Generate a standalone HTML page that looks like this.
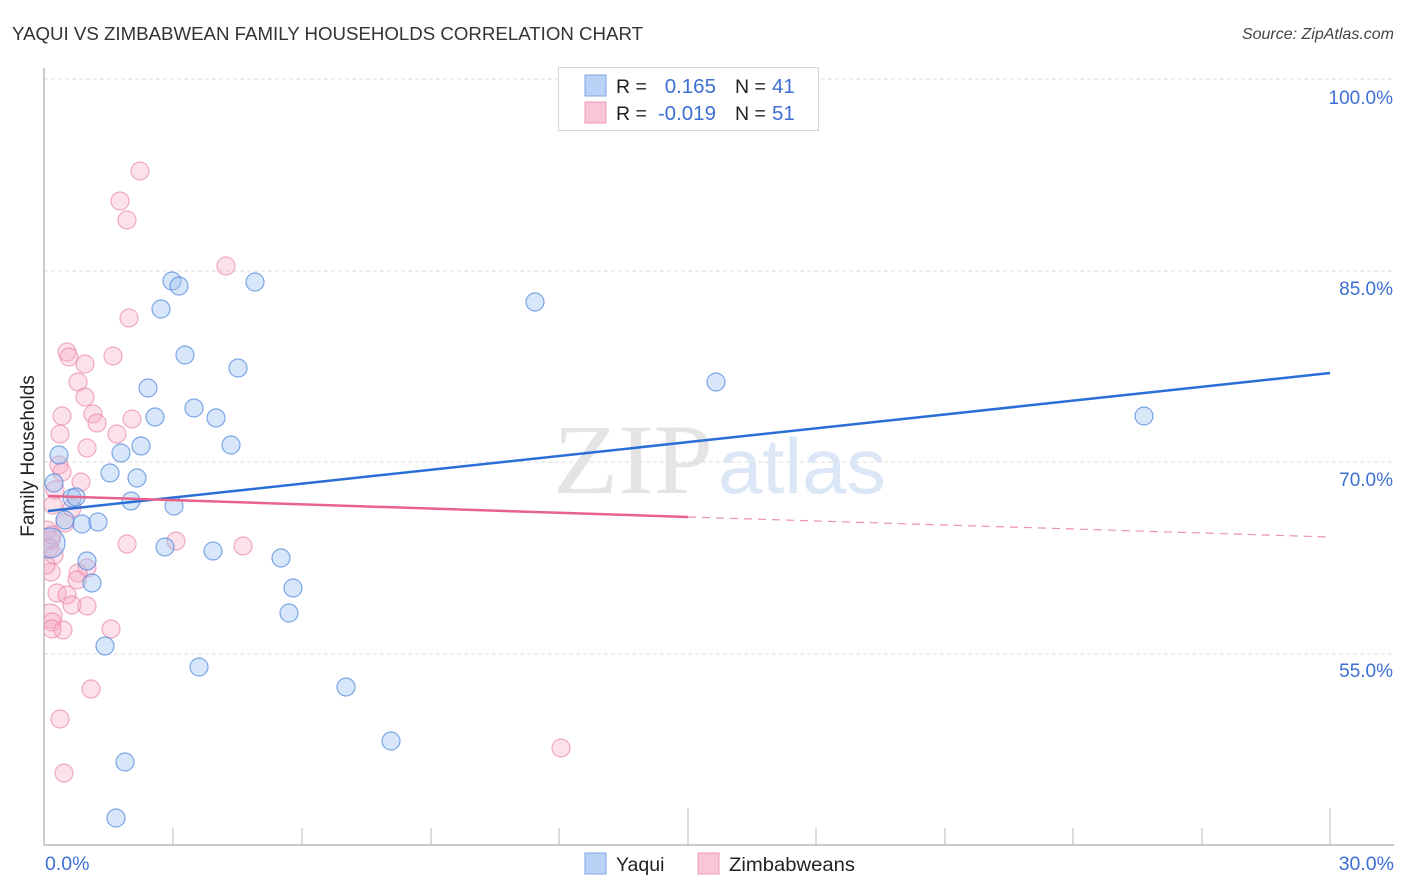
<!DOCTYPE html>
<html><head><meta charset="utf-8"><style>
html,body{margin:0;padding:0;background:#fff;}
svg{display:block;font-family:"Liberation Sans",sans-serif;}
</style></head><body>
<svg width="1406" height="892" viewBox="0 0 1406 892" xmlns="http://www.w3.org/2000/svg">
<defs><clipPath id="pa"><rect x="44" y="60" width="1360" height="785"/></clipPath></defs>
<text x="12" y="40" font-size="18.5" fill="#333" textLength="631" lengthAdjust="spacingAndGlyphs">YAQUI VS ZIMBABWEAN FAMILY HOUSEHOLDS CORRELATION CHART</text>
<text x="1394" y="39" font-size="16" fill="#444" font-style="italic" text-anchor="end">Source: ZipAtlas.com</text>
<g stroke="#dcdcdc" stroke-width="1" stroke-dasharray="4,3">
<line x1="44" y1="79" x2="1393" y2="79"/><line x1="44" y1="271" x2="1393" y2="271"/><line x1="44" y1="462" x2="1393" y2="462"/><line x1="44" y1="654" x2="1393" y2="654"/>
</g>
<g fill="#3d6fd4" font-size="19" text-anchor="end">
<text x="1393" y="104">100.0%</text><text x="1393" y="295">85.0%</text><text x="1393" y="486">70.0%</text><text x="1393" y="677">55.0%</text>
</g>
<text x="45" y="870" font-size="19.5" fill="#3d6fd4">0.0%</text>
<text x="1394" y="870" font-size="19.5" fill="#3d6fd4" text-anchor="end">30.0%</text>
<text transform="translate(34,456) rotate(-90)" font-size="19" fill="#222" text-anchor="middle">Family Households</text>
<g font-family="Liberation Serif,serif" font-size="100" fill="#e4e4e4"><text x="553" y="493" textLength="160" lengthAdjust="spacingAndGlyphs">ZIP</text></g>
<text x="718" y="493" font-size="78" fill="#dbe6f6" textLength="168" lengthAdjust="spacingAndGlyphs">atlas</text>
<line x1="44" y1="68" x2="44" y2="845" stroke="#bbb" stroke-width="1.5"/>
<line x1="44" y1="845" x2="1394" y2="845" stroke="#bbb" stroke-width="1.5"/>
<g stroke="#bbb" stroke-width="1">
<line x1="173" y1="828" x2="173" y2="845"/><line x1="302" y1="828" x2="302" y2="845"/><line x1="431" y1="828" x2="431" y2="845"/><line x1="559" y1="828" x2="559" y2="845"/><line x1="688" y1="808" x2="688" y2="845"/><line x1="816" y1="828" x2="816" y2="845"/><line x1="945" y1="828" x2="945" y2="845"/><line x1="1073" y1="828" x2="1073" y2="845"/><line x1="1202" y1="828" x2="1202" y2="845"/><line x1="1330" y1="808" x2="1330" y2="845"/>
</g>
<g clip-path="url(#pa)">
<g fill="rgba(246,170,196,0.36)" stroke="rgba(232,130,162,0.65)" stroke-width="1.2">
<circle cx="140" cy="171" r="9"/><circle cx="120" cy="201" r="9"/><circle cx="127" cy="220" r="9"/><circle cx="226" cy="266" r="9"/><circle cx="129" cy="318" r="9"/><circle cx="67" cy="352" r="9"/><circle cx="69" cy="357" r="9"/><circle cx="85" cy="364" r="9"/><circle cx="113" cy="356" r="9"/><circle cx="78" cy="382" r="9"/><circle cx="85" cy="397" r="9"/><circle cx="62" cy="416" r="9"/><circle cx="93" cy="414" r="9"/><circle cx="97" cy="423" r="9"/><circle cx="132" cy="419" r="9"/><circle cx="60" cy="434" r="9"/><circle cx="117" cy="434" r="9"/><circle cx="87" cy="448" r="9"/><circle cx="59" cy="465" r="9"/><circle cx="62" cy="472" r="9"/><circle cx="81" cy="482" r="9"/><circle cx="55" cy="490" r="9"/><circle cx="53" cy="505" r="9"/><circle cx="72" cy="508" r="9"/><circle cx="65" cy="523" r="9"/><circle cx="51" cy="540" r="9"/><circle cx="49" cy="548" r="9"/><circle cx="127" cy="544" r="9"/><circle cx="176" cy="541" r="9"/><circle cx="243" cy="546" r="9"/><circle cx="87" cy="568" r="9"/><circle cx="78" cy="573" r="9"/><circle cx="77" cy="580" r="9"/><circle cx="51" cy="572" r="9"/><circle cx="57" cy="593" r="9"/><circle cx="67" cy="595" r="9"/><circle cx="72" cy="605" r="9"/><circle cx="87" cy="606" r="9"/><circle cx="50" cy="616" r="12"/><circle cx="52" cy="622" r="9"/><circle cx="63" cy="630" r="9"/><circle cx="111" cy="629" r="9"/><circle cx="91" cy="689" r="9"/><circle cx="60" cy="719" r="9"/><circle cx="64" cy="773" r="9"/><circle cx="561" cy="748" r="9"/><circle cx="47" cy="530" r="9"/><circle cx="54" cy="555" r="9"/><circle cx="52" cy="629" r="9"/><circle cx="46" cy="565" r="9"/><circle cx="52" cy="535" r="9"/>
</g>
<g fill="rgba(160,196,240,0.42)" stroke="rgba(80,135,220,0.72)" stroke-width="1.2">
<circle cx="172" cy="281" r="9"/><circle cx="179" cy="286" r="9"/><circle cx="255" cy="282" r="9"/><circle cx="161" cy="309" r="9"/><circle cx="535" cy="302" r="9"/><circle cx="185" cy="355" r="9"/><circle cx="238" cy="368" r="9"/><circle cx="716" cy="382" r="9"/><circle cx="148" cy="388" r="9"/><circle cx="155" cy="417" r="9"/><circle cx="194" cy="408" r="9"/><circle cx="216" cy="418" r="9"/><circle cx="1144" cy="416" r="9"/><circle cx="231" cy="445" r="9"/><circle cx="141" cy="446" r="9"/><circle cx="121" cy="453" r="9"/><circle cx="59" cy="455" r="9"/><circle cx="110" cy="473" r="9"/><circle cx="137" cy="478" r="9"/><circle cx="54" cy="483" r="9"/><circle cx="72" cy="498" r="9"/><circle cx="76" cy="497" r="9"/><circle cx="131" cy="501" r="9"/><circle cx="174" cy="506" r="9"/><circle cx="65" cy="520" r="9"/><circle cx="82" cy="524" r="9"/><circle cx="98" cy="522" r="9"/><circle cx="50" cy="543" r="15"/><circle cx="165" cy="547" r="9"/><circle cx="213" cy="551" r="9"/><circle cx="281" cy="558" r="9"/><circle cx="87" cy="561" r="9"/><circle cx="92" cy="583" r="9"/><circle cx="293" cy="588" r="9"/><circle cx="289" cy="613" r="9"/><circle cx="105" cy="646" r="9"/><circle cx="199" cy="667" r="9"/><circle cx="346" cy="687" r="9"/><circle cx="391" cy="741" r="9"/><circle cx="125" cy="762" r="9"/><circle cx="116" cy="818" r="9"/>
</g>
</g>
<line x1="48" y1="511" x2="1330" y2="373" stroke="#2a6fd6" stroke-width="2.5"/>
<line x1="48" y1="496" x2="688" y2="517" stroke="#e8628e" stroke-width="2.5"/>
<line x1="688" y1="517" x2="1330" y2="537" stroke="#e8628e" stroke-width="1.2" stroke-dasharray="8,6" opacity="0.7"/>
<rect x="558.5" y="67.5" width="260" height="63" fill="#fff" stroke="#d6d6d6" stroke-width="1"/>
<rect x="585" y="75" width="21" height="21" fill="#b9d2f5" stroke="#7ea6e4" stroke-width="1"/>
<rect x="585" y="102" width="21" height="21" fill="#f9c6d5" stroke="#eb9ab4" stroke-width="1"/>
<g font-size="19.5" fill="#222">
<text x="616" y="93">R =</text><text x="616" y="120">R =</text>
<text x="735" y="93">N =</text><text x="735" y="120">N =</text>
</g>
<g font-size="20.5" fill="#3d6fd4">
<text x="716" y="93" text-anchor="end">0.165</text><text x="716" y="120" text-anchor="end">-0.019</text>
<text x="772" y="93">41</text><text x="772" y="120">51</text>
</g>
<rect x="585" y="853" width="21" height="21" fill="#b9d2f5" stroke="#7ea6e4" stroke-width="1"/>
<text x="616" y="871" font-size="19.5" fill="#222">Yaqui</text>
<rect x="698" y="853" width="21" height="21" fill="#f9c6d5" stroke="#eb9ab4" stroke-width="1"/>
<text x="729" y="871" font-size="19.5" fill="#222" textLength="126" lengthAdjust="spacingAndGlyphs">Zimbabweans</text>
</svg>
</body></html>
